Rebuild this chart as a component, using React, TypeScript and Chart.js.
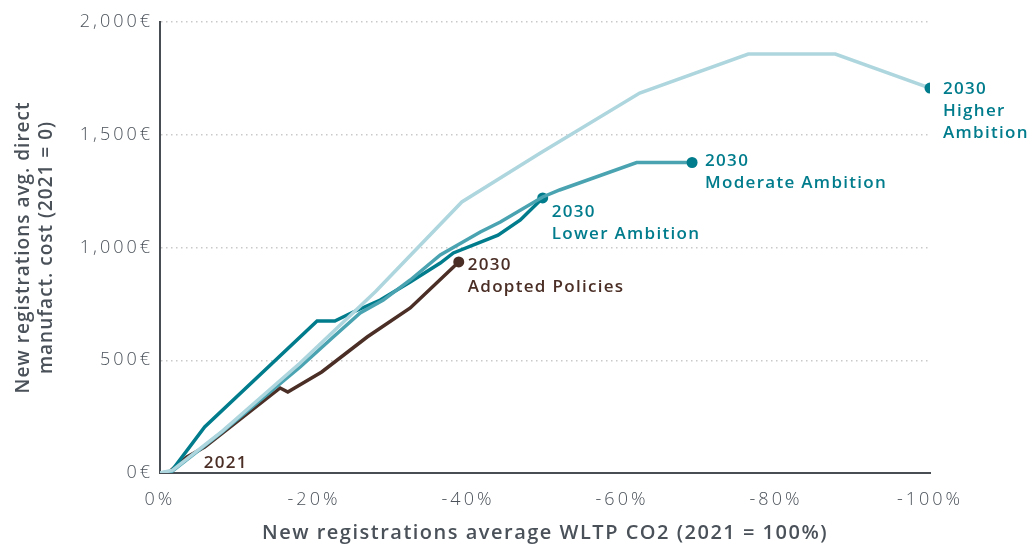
import React, { useEffect, useRef } from "react";
import { Chart, registerables } from "chart.js";

Chart.register(...registerables);

// Tick values
const xTicks = [0, 20, 40, 60, 80, 100];
const yTicks = [0, 500, 1000, 1500, 2000];

// x = reduction of average WLTP CO2 vs 2021 (%), y = avg. direct manufacturing cost (€)
const higherX = [0, 1.6, 8.1, 18.2, 28, 39.2, 49.4, 62.3, 76.4, 87.7, 100];
const higherY = [0, 12, 186, 488, 805, 1202, 1419, 1685, 1858, 1858, 1707];

const moderateX = [0, 1.6, 8, 18.2, 22.5, 26, 29, 32.5, 36.4, 41.6, 44.2, 49.7, 51.9, 61.9, 69.1];
const moderateY = [0, 8, 180, 470, 603, 710, 767, 856, 967, 1069, 1113, 1224, 1255, 1377, 1377];

const lowerX = [1.3, 5.8, 20.4, 22.7, 25.1, 28.6, 32.5, 36.4, 38.1, 43.9, 46.8, 49.7];
const lowerY = [0, 204, 674, 674, 714, 767, 847, 931, 976, 1055, 1122, 1220];

const adoptedX = [1.0, 3.5, 5.8, 15.6, 16.6, 21.0, 26.9, 32.5, 38.8];
const adoptedY = [0, 71, 115, 377, 359, 448, 603, 732, 936];

const higherLabel = ["2030", "Higher", "Ambition"];
const moderateLabel = ["2030", "Moderate Ambition"];
const lowerLabel = ["2030", "Lower Ambition"];
const adoptedLabel = ["2030", "Adopted Policies"];
const startLabel = ["2021"];

const xTitle = "New registrations average WLTP CO2 (2021 = 100%)";
const yTitle = ["New registrations avg. direct", "manufact. cost (2021 = 0)"];

const TEAL = "#007c8c";
const LIGHT = "#aed6de";
const MID = "#4aa3b1";
const BROWN = "#4b2f26";
const AXIS = "#474d53";
const TEXT = "#4a5159";

const pts = (xs: number[], ys: number[]) => xs.map((x, i) => ({ x, y: ys[i] }));

function spaced(scale: any, name: string, spacing: string) {
  const key = "__spaced_" + name;
  if (scale[key]) return;
  const proto = Object.getPrototypeOf(scale)[name];
  scale[name] = function (...args: any[]) {
    const c = this.ctx;
    c.save();
    c.letterSpacing = spacing;
    proto.apply(this, args);
    c.restore();
  };
  scale[key] = true;
}

export default function App() {
  const ref = useRef<HTMLCanvasElement>(null);

  useEffect(() => {
    if (!ref.current) return;

    const lastDot = (color: string) => ({
      pointRadius: (c: any) => (c.dataIndex === c.dataset.data.length - 1 ? 5.5 : 0),
      pointHoverRadius: 0,
      pointBackgroundColor: color,
      pointBorderWidth: 0,
    });

    const annotations = [
      { lines: higherLabel, x: higherX[higherX.length - 1], y: higherY[higherY.length - 1], dx: 13, dy: 1, color: TEAL },
      { lines: moderateLabel, x: moderateX[moderateX.length - 1], y: moderateY[moderateY.length - 1], dx: 13, dy: -1, color: TEAL },
      { lines: lowerLabel, x: lowerX[lowerX.length - 1], y: lowerY[lowerY.length - 1], dx: 9, dy: 14, color: TEAL },
      { lines: adoptedLabel, x: adoptedX[adoptedX.length - 1], y: adoptedY[adoptedY.length - 1], dx: 9, dy: 3, color: BROWN },
      { lines: startLabel, x: adoptedX[0], y: adoptedY[0], dx: 36, dy: -10, color: BROWN },
    ];

    const labelPlugin = {
      id: "endLabels",
      beforeDraw(chart: any) {
        const { x, y } = chart.scales;
        spaced(x, "drawLabels", "3px");
        spaced(y, "drawLabels", "3px");
        spaced(x, "drawTitle", "1.5px");
        spaced(y, "drawTitle", "1px");
      },
      afterDatasetsDraw(chart: any) {
        const { ctx, scales } = chart;
        ctx.save();
        ctx.font = "600 17px 'Open Sans'";
        ctx.letterSpacing = "1.3px";
        ctx.textBaseline = "middle";
        ctx.textAlign = "left";
        annotations.forEach((a) => {
          const px = scales.x.getPixelForValue(a.x) + a.dx;
          const py = scales.y.getPixelForValue(a.y) + a.dy;
          ctx.fillStyle = a.color;
          a.lines.forEach((t, i) => ctx.fillText(t, px, py + i * 22));
        });
        ctx.restore();
      },
    };

    const chart = new Chart(ref.current, {
      type: "line",
      data: {
        datasets: [
          { data: pts(higherX, higherY), borderColor: LIGHT, borderWidth: 3.5, ...lastDot(TEAL) },
          { data: pts(moderateX, moderateY), borderColor: MID, borderWidth: 3.5, ...lastDot(TEAL) },
          { data: pts(lowerX, lowerY), borderColor: TEAL, borderWidth: 3.5, ...lastDot(TEAL) },
          { data: pts(adoptedX, adoptedY), borderColor: BROWN, borderWidth: 3.5, ...lastDot(BROWN) },
        ] as any,
      },
      options: {
        animation: false,
        responsive: false,
        maintainAspectRatio: false,
        layout: { padding: { left: 0, right: 100, top: 22, bottom: 0 } },
        plugins: { legend: { display: false }, tooltip: { enabled: false } },
        elements: { line: { tension: 0, borderCapStyle: "butt", borderJoinStyle: "miter" } },
        scales: {
          x: {
            type: "linear",
            min: 0,
            max: 100,
            afterBuildTicks: (s: any) => {
              s.ticks = xTicks.map((v) => ({ value: v }));
            },
            afterFit: (s: any) => {
              s.height = 71;
            },
            ticks: {
              callback: (v: any) => (v === 0 ? "0%" : `-${v}%`),
              font: { family: "'Open Sans'", size: 18, weight: "300" },
              color: TEXT,
              padding: 16,
              maxRotation: 0,
            },
            grid: { display: false, drawTicks: false },
            border: { display: true, color: AXIS, width: 2 },
            title: {
              display: true,
              text: xTitle,
              font: { family: "'Open Sans'", size: 20, weight: "600", lineHeight: 1.2 },
              color: TEXT,
              padding: { top: 0, bottom: -1 },
            },
          },
          y: {
            type: "linear",
            min: 0,
            max: 2000,
            afterBuildTicks: (s: any) => {
              s.ticks = yTicks.map((v) => ({ value: v }));
            },
            afterFit: (s: any) => {
              s.width = 160;
            },
            ticks: {
              callback: (v: any) => `${Number(v).toLocaleString("en-US")}€`,
              font: { family: "'Open Sans'", size: 18, weight: "300" },
              color: TEXT,
              padding: 7,
            },
            grid: {
              drawTicks: false,
              color: (c: any) => (c.tick && c.tick.value === 0 ? "rgba(0,0,0,0)" : "#c9c9c9"),
              lineWidth: 1.5,
            },
            border: { display: true, color: AXIS, width: 2, dash: [1.5, 3.5] },
            title: {
              display: true,
              text: yTitle,
              font: { family: "'Open Sans'", size: 19, weight: "600", lineHeight: 1.2 },
              color: TEXT,
              padding: { top: 12, bottom: 0 },
            },
          },
        },
      } as any,
      plugins: [labelPlugin],
    });

    return () => chart.destroy();
  }, []);

  return (
    <div style={{ position: "fixed", left: 0, top: 0, width: 1030, height: 544, background: "#fff" }}>
      <canvas ref={ref} width={1030} height={544} style={{ width: 1030, height: 544 }} />
    </div>
  );
}
